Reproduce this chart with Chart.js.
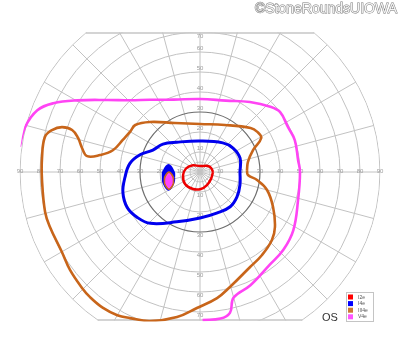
<!DOCTYPE html>
<html>
<head>
<meta charset="utf-8">
<script src="https://cdn.jsdelivr.net/npm/chart.js"></script>
<style>
  html, body { margin: 0; padding: 0; background: #fff; }
  canvas { display: block; }
</style>
</head>
<body>
<canvas id="field" width="400" height="352"></canvas>
<script>
// Isopters: meridian in degrees (0 = right, counter-clockwise), eccentricity in degrees
const i2eMeridian = [0, 20, 37, 90, 141, 166, 190, 219, 248, 273, 298, 328];
const i2eRadius   = [6.5, 5.9, 5.0, 3.0, 5.2, 7.2, 8.6, 9.6, 9.2, 8.5, 7.4, 6.5];

const i4eMeridian = [0, 19, 36, 52, 90, 128, 143, 155, 164, 173, 184, 195, 206, 216, 226, 245, 270, 293, 311, 326, 342];
const i4eRadius   = [20, 21.2, 20.4, 18.5, 15.5, 18.9, 23.2, 26, 31.2, 35.3, 37.6, 39.9, 40.5, 38.7, 35.7, 27.5, 23, 22.2, 23, 22.3, 21];

const iii4eMeridian = [2, 12, 22.5, 29, 35, 41, 62, 90, 117, 135, 144, 150, 157, 166, 170.4, 172, 168.5, 164.4, 161.8, 162, 164.2, 167.3, 175, 183, 194.5, 200, 210, 217, 224.5, 228.7, 234.5, 240, 244.4, 251.4, 261, 268.7, 277.7, 284.6, 297.8, 306.8, 316.6, 323.7, 334.4, 345, 352, 356.4];
const iii4eRadius   = [23.5, 24.5, 28.7, 35, 35, 33.5, 26.6, 24, 27.5, 35.4, 40, 40.3, 41.7, 44.9, 50.7, 57, 60.2, 63.3, 67.3, 72.6, 76.9, 79.5, 79.3, 79.1, 80, 79.9, 79.8, 81.4, 82.7, 83.3, 83.5, 82.7, 81, 78.6, 73.4, 68, 63.6, 59.4, 53.7, 51.8, 49.5, 46.5, 40.5, 34.7, 28.8, 24];

// V4e runs off the chart, so it is an open line
const v4eMeridian = [172, 165.6, 159.2, 154.9, 149.7, 142, 134.2, 124.8, 110, 90, 70, 54.5, 42.9, 36.9, 27, 18.6, 7, 0, -16, -32, -43, -53, -66, -75, -78, -82, -89];
const v4eRadius   = [91, 90.3, 87, 81, 71, 58.5, 50, 44, 38.5, 36.5, 38, 43, 48, 50, 49.4, 50, 49.4, 50, 51, 55, 57, 58, 62, 65, 72, 74, 74];

// Blind spot (centre in degrees, outline as radii every 45 degrees around it)
const blindMeridian = [0, 45, 90, 135, 180, 225, 270, 315];
const blindI4eCentre = [-15.75, -2.6];
const blindI4eRadius = [2.8, 3.7, 6.0, 3.7, 2.8, 3.6, 6.2, 3.6];
const blindIII4eCentre = [-15.5, -4.3];
const blindIII4eRadius = [2.2, 2.8, 4.2, 2.8, 2.2, 2.8, 4.3, 2.8];
const blindV4eCentre = [-15.5, -4.6];
const blindV4eRadius = [1.5, 1.9, 3.0, 1.9, 1.5, 1.9, 3.0, 1.9];

// Grid
const ringDegrees = [5, 10, 20, 30, 40, 50, 60, 70, 80, 90];
const darkRing = 30;
const spokeDegrees = [0, 15, 30, 45, 60, 75, 90, 105, 120, 135, 150, 165, 180, 195, 210, 225, 240, 255, 270, 285, 300, 315, 330, 345];
const horizontalTicks = [10, 20, 30, 40, 50, 60, 70, 80, 90];
const verticalTicks = [10, 20, 30, 40, 50, 60, 70];
const topCut = 69.5;
const bottomCut = -74;

const legendLabels = ['I2e', 'I4e', 'III4e', 'V4e'];
const legendColors = ['#ff0000', '#0000ff', '#cc7a33', '#ff55ff'];

function toPoints(meridians, radii, centre) {
    const cx = centre ? centre[0] : 0;
    const cy = centre ? centre[1] : 0;
    return meridians.map((m, i) => {
        const a = m * Math.PI / 180;
        return { x: cx + radii[i] * Math.cos(a), y: cy + radii[i] * Math.sin(a) };
    });
}

function closed(points) {
    return points.concat([points[0]]);
}

function clipField(chart, pad) {
    const ctx = chart.ctx;
    const xs = chart.scales.x, ys = chart.scales.y;
    const cx = xs.getPixelForValue(0), cy = ys.getPixelForValue(0);
    const R = xs.getPixelForValue(90) - cx + pad;
    const top = ys.getPixelForValue(topCut) - pad;
    const bottom = ys.getPixelForValue(bottomCut) + pad;
    ctx.beginPath();
    ctx.arc(cx, cy, R, 0, Math.PI * 2);
    ctx.clip();
    ctx.beginPath();
    ctx.rect(0, top, chart.width, bottom - top);
    ctx.clip();
}

const perimetry = {
    id: 'perimetry',
    beforeDatasetsDraw(chart) {
        const ctx = chart.ctx;
        const xs = chart.scales.x, ys = chart.scales.y;
        const cx = xs.getPixelForValue(0), cy = ys.getPixelForValue(0);
        const px = d => xs.getPixelForValue(d) - cx;
        const R = px(90);

        ctx.save();
        clipField(chart, 0.5);

        // spokes
        ctx.strokeStyle = '#c2c2c2';
        ctx.lineWidth = 1;
        spokeDegrees.forEach(s => {
            const a = s * Math.PI / 180;
            ctx.beginPath();
            ctx.moveTo(cx, cy);
            ctx.lineTo(cx + R * Math.cos(a), cy - R * Math.sin(a));
            ctx.stroke();
        });

        // rings
        ringDegrees.forEach(r => {
            ctx.beginPath();
            ctx.arc(cx, cy, px(r), 0, Math.PI * 2);
            ctx.strokeStyle = r === darkRing ? '#6e6e6e' : '#c2c2c2';
            ctx.lineWidth = r === darkRing ? 1.2 : 1;
            ctx.stroke();
        });
        ctx.restore();

        // top and bottom edges
        const top = ys.getPixelForValue(topCut), bottom = ys.getPixelForValue(bottomCut);
        ctx.save();
        ctx.strokeStyle = '#c6c6c6';
        ctx.lineWidth = 1.5;
        [top, bottom].forEach(y => {
            const dx = Math.sqrt(R * R - (y - cy) * (y - cy));
            ctx.beginPath();
            ctx.moveTo(cx - dx, y);
            ctx.lineTo(cx + dx, y);
            ctx.stroke();
        });

        // tick labels
        ctx.fillStyle = '#9c9c9c';
        ctx.font = '6px "Liberation Sans", Arial, sans-serif';
        ctx.textAlign = 'center';
        ctx.textBaseline = 'alphabetic';
        horizontalTicks.forEach(t => {
            ctx.fillText(String(t), cx + px(t), cy + 0.5);
            ctx.fillText(String(t), cx - px(t), cy + 0.5);
        });
        verticalTicks.forEach(t => {
            let yTop = ys.getPixelForValue(t) - 2;
            if (yTop - 4 < top) yTop = top + 5;
            ctx.fillText(String(t), cx, yTop);
            ctx.fillText(String(t), cx, ys.getPixelForValue(-t) + 5);
        });
        ctx.restore();

        // clip the isopters to the chart field
        ctx.save();
        clipField(chart, 1.5);
    },
    afterDatasetsDraw(chart) {
        const ctx = chart.ctx;
        ctx.restore();

        // legend
        ctx.save();
        ctx.fillStyle = '#fff';
        ctx.fillRect(346, 292, 27, 29);
        ctx.strokeStyle = '#c4c4c4';
        ctx.lineWidth = 1;
        ctx.strokeRect(346.5, 292.5, 27, 29);
        ctx.font = '5px "Liberation Sans", Arial, sans-serif';
        ctx.textBaseline = 'middle';
        legendLabels.forEach((lbl, i) => {
            const y = 294.5 + i * 6.6;
            ctx.fillStyle = legendColors[i];
            ctx.fillRect(348, y, 5, 5);
            ctx.fillStyle = '#555';
            ctx.fillText(lbl, 358, y + 2.7);
        });

        // eye label
        ctx.fillStyle = '#333';
        ctx.font = '11px "Liberation Sans", Arial, sans-serif';
        ctx.textBaseline = 'alphabetic';
        ctx.fillText('OS', 322, 321);

        // watermark
        ctx.font = '14px "Liberation Sans", Arial, sans-serif';
        ctx.textAlign = 'right';
        ctx.lineWidth = 1;
        ctx.strokeStyle = '#7a7a7a';
        ctx.strokeText('©StoneRoundsUIOWA', 397, 13);
        ctx.fillStyle = '#f4f4f4';
        ctx.fillText('©StoneRoundsUIOWA', 397, 13);
        ctx.restore();
    }
};

const lineBase = { showLine: true, pointRadius: 0, tension: 0.4, fill: false };

new Chart(document.getElementById('field'), {
    type: 'scatter',
    data: {
        datasets: [
            Object.assign({}, lineBase, { label: 'V4e blind', data: closed(toPoints(blindMeridian, blindV4eRadius, blindV4eCentre)), borderColor: '#ff44ff', backgroundColor: '#ff44ff', borderWidth: 1, fill: 'shape', order: 1 }),
            Object.assign({}, lineBase, { label: 'III4e blind', data: closed(toPoints(blindMeridian, blindIII4eRadius, blindIII4eCentre)), borderColor: '#c8651a', backgroundColor: '#ff55ff', borderWidth: 1.8, fill: 'shape', order: 2 }),
            Object.assign({}, lineBase, { label: 'I4e blind', data: closed(toPoints(blindMeridian, blindI4eRadius, blindI4eCentre)), borderColor: '#0000ee', backgroundColor: '#0000ee', borderWidth: 2.2, fill: 'shape', order: 3 }),
            Object.assign({}, lineBase, { label: 'I2e', data: closed(toPoints(i2eMeridian, i2eRadius)), borderColor: '#ee0000', borderWidth: 2.5, order: 4 }),
            Object.assign({}, lineBase, { label: 'I4e', data: closed(toPoints(i4eMeridian, i4eRadius)), borderColor: '#0000ee', borderWidth: 3, order: 5 }),
            Object.assign({}, lineBase, { label: 'III4e', data: closed(toPoints(iii4eMeridian, iii4eRadius)), borderColor: '#c8651a', borderWidth: 2.6, order: 6 }),
            Object.assign({}, lineBase, { label: 'V4e', data: toPoints(v4eMeridian, v4eRadius), borderColor: '#ff44f4', borderWidth: 2.6, order: 7 })
        ]
    },
    options: {
        responsive: false,
        animation: false,
        devicePixelRatio: 1,
        layout: { padding: 0 },
        scales: {
            x: { type: 'linear', min: -100, max: 100, display: false },
            y: { type: 'linear', min: -90, max: 86, display: false }
        },
        plugins: {
            legend: { display: false },
            tooltip: { enabled: false }
        }
    },
    plugins: [perimetry]
});
</script>
</body>
</html>
